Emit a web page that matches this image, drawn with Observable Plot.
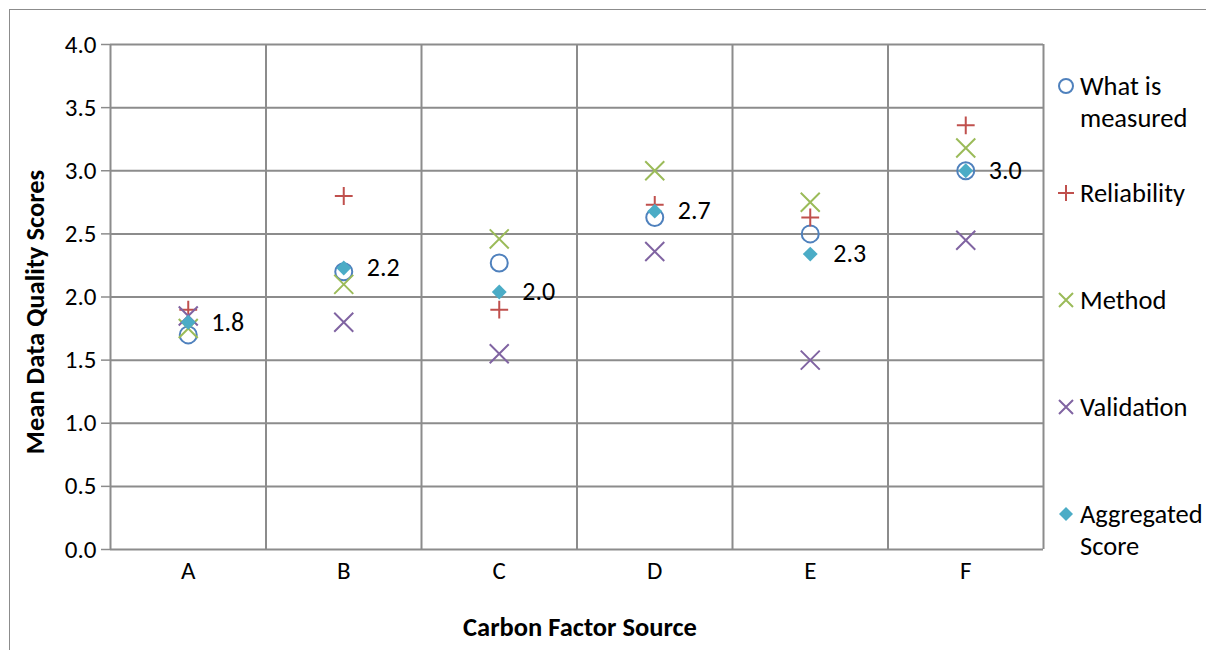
<!DOCTYPE html>
<html>
<head>
<meta charset="utf-8">
<script src="https://cdn.jsdelivr.net/npm/d3@7"></script>
<script src="https://cdn.jsdelivr.net/npm/@observablehq/plot@0.6"></script>
<style>
  html, body { margin: 0; padding: 0; background: #fff; overflow: hidden; }
  body { width: 1206px; height: 650px; position: relative; font-family: Carlito, Calibri, Lato, sans-serif; }
  #frame { position: absolute; left: 9px; top: 9px; width: 1400px; height: 900px; border: 1.5px solid #8c8c8c; box-sizing: border-box; }
  #chart { position: absolute; left: 0; top: 0; }
  #ytitle { position: absolute; left: 35px; top: 312px; transform: translate(-50%, -50%) rotate(-90deg); font-weight: bold; font-size: 26.5px; white-space: nowrap; }
  #xtitle { position: absolute; left: 580px; top: 627px; transform: translate(-50%, -50%); font-weight: bold; font-size: 26.5px; white-space: nowrap; }
  #legend { position: absolute; left: 1056px; top: 70px; width: 150px; }
  .item { height: 107px; display: flex; align-items: flex-start; }
  .item svg { flex: none; margin-top: 6px; }
  .item span { font-size: 26.5px; line-height: 32px; margin-left: 4px; }
</style>
</head>
<body>
<div id="frame"></div>
<div id="chart"></div>
<div id="ytitle">Mean Data Quality Scores</div>
<div id="xtitle">Carbon Factor Source</div>
<div id="legend"></div>
<script>
const categories = ["A", "B", "C", "D", "E", "F"];
const whatMeasured = [1.70, 2.20, 2.27, 2.63, 2.50, 3.00];
const reliability  = [1.90, 2.80, 1.90, 2.73, 2.63, 3.36];
const method       = [1.75, 2.10, 2.46, 3.00, 2.75, 3.18];
const validation   = [1.85, 1.80, 1.55, 2.36, 1.50, 2.45];
const aggregated   = [1.80, 2.23, 2.04, 2.68, 2.34, 3.00];
const yTicks = [0, 0.5, 1, 1.5, 2, 2.5, 3, 3.5, 4];
const seriesNames = ["What is measured", "Reliability", "Method", "Validation", "Aggregated Score"];

const colors = {
  what: "#4f81bd", rel: "#c0504d", method: "#9bbb59", valid: "#8064a2", agg: "#4bacc6"
};

const rows = categories.map((c, k) => ({
  i: k + 1, c,
  what: whatMeasured[k], rel: reliability[k], method: method[k],
  valid: validation[k], agg: aggregated[k]
}));
const xTicks = rows.map(d => d.i);
const boundaries = [0.5, ...categories.map((c, k) => k + 1.5)];
const fmt = d3.format(".1f");
const grid = "#8c8c8c";
const catLabel = i => categories[i - 1];

const chart = Plot.plot({
  width: 1206, height: 650,
  marginLeft: 110, marginRight: 163, marginTop: 44, marginBottom: 101,
  style: { fontFamily: "Carlito, Calibri, Lato, sans-serif", fontSize: "25px", color: "#000", background: "transparent", overflow: "visible" },
  x: { domain: [0.5, categories.length + 0.5], ticks: xTicks, tickFormat: catLabel, tickSize: 0, tickPadding: 12, label: null },
  y: { domain: [0, 4], ticks: yTicks, tickFormat: fmt, tickSize: 9, tickPadding: 5, label: null },
  marks: [
    Plot.ruleY(yTicks, { stroke: grid, strokeWidth: 2 }),
    Plot.ruleX(boundaries, { stroke: grid, strokeWidth: 2 }),
    Plot.dot(rows, { x: "i", y: "what", symbol: "circle", r: 8.5, stroke: colors.what, strokeWidth: 2, fill: "none" }),
    Plot.dot(rows, { x: "i", y: "rel", symbol: "plus", r: 5.8, stroke: colors.rel, strokeWidth: 2 }),
    Plot.dot(rows, { x: "i", y: "method", symbol: "times", r: 8.7, stroke: colors.method, strokeWidth: 2 }),
    Plot.dot(rows, { x: "i", y: "valid", symbol: "times", r: 8.7, stroke: colors.valid, strokeWidth: 2 }),
    Plot.dot(rows, { x: "i", y: "agg", symbol: "diamond2", r: 6.7, fill: colors.agg, stroke: "none" }),
    Plot.text(rows, { x: "i", y: "agg", text: d => fmt(d.agg), textAnchor: "start", dx: 23, fontSize: 26, fill: "#000" })
  ]
});
// force axis label size and tick colour inline
chart.querySelectorAll('g[aria-label*="axis"]').forEach(g => {
  g.removeAttribute("font-size");
  g.querySelectorAll("text").forEach(t => { t.style.fontSize = "25px"; t.style.fill = "#000"; });
  if ((g.getAttribute("aria-label") || "").startsWith("y-axis")) {
    g.querySelectorAll("line, path").forEach(p => { p.style.stroke = grid; p.style.strokeWidth = "1.5"; });
  }
});
document.getElementById("chart").appendChild(chart);

// legend
const legendSymbols = [
  `<circle cx="10" cy="10" r="7" fill="none" stroke="${colors.what}" stroke-width="2"/>`,
  `<path d="M2 10H18M10 2V18" stroke="${colors.rel}" stroke-width="2"/>`,
  `<path d="M3 3L17 17M17 3L3 17" stroke="${colors.method}" stroke-width="2"/>`,
  `<path d="M3 3L17 17M17 3L3 17" stroke="${colors.valid}" stroke-width="2"/>`,
  `<path d="M10 3L17 10L10 17L3 10Z" fill="${colors.agg}"/>`
];
const legend = document.getElementById("legend");
seriesNames.forEach((name, k) => {
  const item = document.createElement("div");
  item.className = "item";
  item.innerHTML = `<svg width="20" height="20" viewBox="0 0 20 20">${legendSymbols[k]}</svg><span>${name}</span>`;
  legend.appendChild(item);
});
</script>
</body>
</html>
